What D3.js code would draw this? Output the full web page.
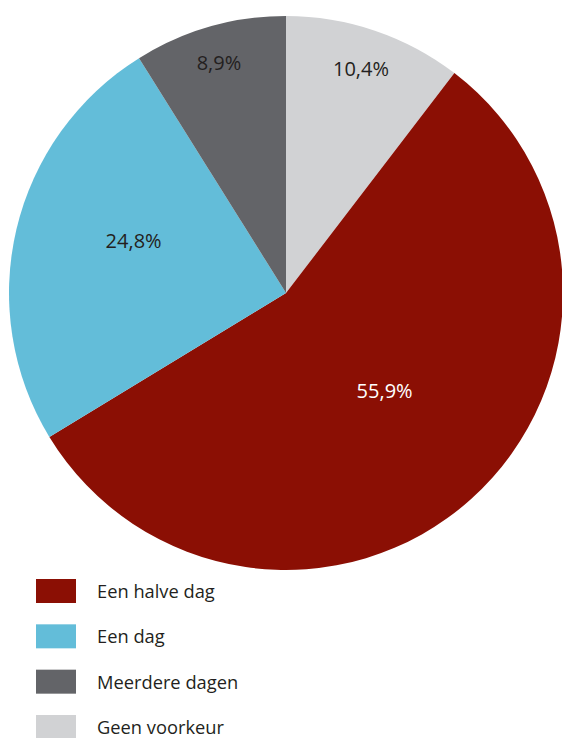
<!DOCTYPE html>
<html>
<head>
<meta charset="utf-8">
<script src="https://cdn.jsdelivr.net/npm/d3@7"></script>
<style>
  html, body { margin: 0; padding: 0; background: #fff; }
  svg { display: block; }
</style>
</head>
<body>
<svg id="chart" width="562" height="738"></svg>
<script>
// Data (pie order: clockwise from 12 o'clock)
const categories = ["Geen voorkeur", "Een halve dag", "Een dag", "Meerdere dagen"];
const values = [10.4, 55.9, 24.8, 8.9];
const valueLabels = ["10,4%", "55,9%", "24,8%", "8,9%"];
// Legend order
const legendOrder = ["Een halve dag", "Een dag", "Meerdere dagen", "Geen voorkeur"];

// Styles
const colors = {
  "Geen voorkeur": "#d1d2d4",
  "Een halve dag": "#8b0f04",
  "Een dag": "#63bdd9",
  "Meerdere dagen": "#636468"
};
const labelColors = {
  "Geen voorkeur": "#231f20",
  "Een halve dag": "#ffffff",
  "Een dag": "#231f20",
  "Meerdere dagen": "#231f20"
};
// label placement: [fraction across the slice's angle, fraction of radius]
const labelPlacement = {
  "Geen voorkeur": [0.494, 0.853],
  "Een halve dag": [0.484, 0.502],
  "Een dag": [0.561, 0.581],
  "Meerdere dagen": [0.493, 0.865]
};

const svg = d3.select("#chart");
const cx = 286, cy = 293, r = 277;
const font = "'Open Sans', 'Noto Sans', sans-serif";

const data = categories.map((c, i) => ({ cat: c, value: values[i], label: valueLabels[i] }));

const pie = d3.pie().value(d => d.value).sort(null);
const arcs = pie(data);
const arc = d3.arc().innerRadius(0).outerRadius(r);

const g = svg.append("g").attr("transform", `translate(${cx},${cy})`);

g.selectAll("path.slice")
  .data(arcs)
  .join("path")
  .attr("class", "slice")
  .attr("d", arc)
  .attr("fill", d => colors[d.data.cat]);

g.selectAll("text.val")
  .data(arcs)
  .join("text")
  .attr("class", "val")
  .attr("transform", d => {
    const [af, rf] = labelPlacement[d.data.cat];
    const a = d.startAngle + af * (d.endAngle - d.startAngle);
    const lr = r * rf;
    return `translate(${Math.sin(a) * lr},${-Math.cos(a) * lr})`;
  })
  .attr("text-anchor", "middle")
  .attr("dy", "0.35em")
  .attr("font-family", font)
  .attr("font-size", 20)
  .attr("fill", d => labelColors[d.data.cat])
  .text(d => d.data.label);

// Legend
const legendY = d3.scalePoint().domain(legendOrder).range([591, 727]);
const lg = svg.append("g");
const items = lg.selectAll("g.item")
  .data(legendOrder)
  .join("g")
  .attr("class", "item")
  .attr("transform", d => `translate(0,${legendY(d)})`);

items.append("rect")
  .attr("x", 36)
  .attr("y", -12)
  .attr("width", 40)
  .attr("height", 24)
  .attr("fill", d => colors[d]);

items.append("text")
  .attr("x", 97)
  .attr("y", 0)
  .attr("dy", "0.38em")
  .attr("font-family", font)
  .attr("font-size", 18.3)
  .attr("fill", "#231f20")
  .text(d => d);
</script>
</body>
</html>
